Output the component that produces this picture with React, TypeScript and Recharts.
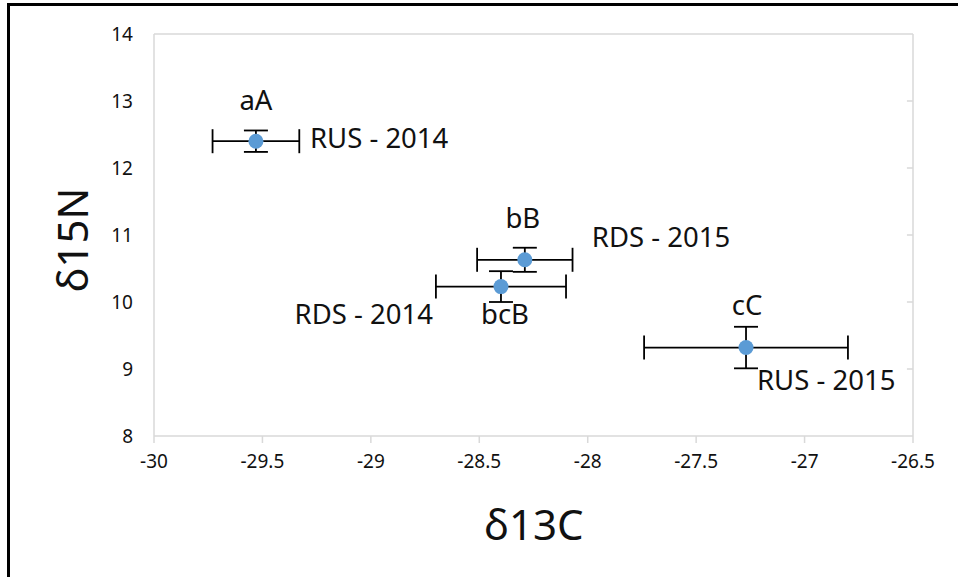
import React from 'react';
import { ScatterChart, Scatter, XAxis, YAxis, ErrorBar, ReferenceLine } from 'recharts';

const sites = ['RUS - 2014', 'RDS - 2015', 'RDS - 2014', 'RUS - 2015'];
const groupLetters = ['aA', 'bB', 'bcB', 'cC'];
const d13C = [-29.53, -28.29, -28.4, -27.27];
const d15N = [12.4, 10.63, 10.23, 9.32];
const d13CErr = [0.2, 0.22, 0.3, 0.47];
const d15NErr = [0.16, 0.18, 0.23, 0.31];
const xTicks = [-30, -29.5, -29, -28.5, -28, -27.5, -27, -26.5];
const yTicks = [8, 9, 10, 11, 12, 13, 14];

const points = sites.map((s, i) => ({
  site: s,
  letter: groupLetters[i],
  x: d13C[i],
  y: d15N[i],
  xErr: d13CErr[i],
  yErr: d15NErr[i],
}));

// label placement (styling, kept apart from the data)
const letterPlacement: Record<string, { dx: number; dy: number }> = {
  'RUS - 2014': { dx: 0, dy: -31 },
  'RDS - 2015': { dx: -2, dy: -32 },
  'RDS - 2014': { dx: 4, dy: 37 },
  'RUS - 2015': { dx: 1, dy: -33 },
};
const namePlacement: Record<string, { dx: number; dy: number; anchor: 'start' | 'end' }> = {
  'RUS - 2014': { dx: 54, dy: 7, anchor: 'start' },
  'RDS - 2015': { dx: 67, dy: -13, anchor: 'start' },
  'RDS - 2014': { dx: -68, dy: 37, anchor: 'end' },
  'RUS - 2015': { dx: 11, dy: 42, anchor: 'start' },
};

const FONT = '"Noto Sans", sans-serif';
const GRID = '#d9d9d9';
const X_MIN = -30;
const X_MAX = -26.5;
const Y_MIN = 8;
const Y_MAX = 14;
const INNER_TICK = 0.028; // inward tick length of the right frame, in x units

const PointShape = (props: any) => {
  const { cx, cy, payload } = props;
  if (cx == null || cy == null) return <g />;
  const lp = letterPlacement[payload.site];
  const np = namePlacement[payload.site];
  return (
    <g>
      <circle cx={cx} cy={cy} r={7.5} fill="#5B9BD5" />
      <text x={cx + lp.dx} y={cy + lp.dy} textAnchor="middle" fontFamily={FONT} fontSize={27.5} fill="#111">
        {payload.letter}
      </text>
      <text x={cx + np.dx} y={cy + np.dy} textAnchor={np.anchor} fontFamily={FONT} fontSize={27.5} fill="#111">
        {payload.site}
      </text>
    </g>
  );
};

export default function App() {
  return (
    <div style={{ position: 'absolute', left: 0, top: 0, width: 958, height: 577, background: '#fff' }}>
      <div
        style={{
          position: 'absolute',
          left: 7,
          top: 3,
          width: 960,
          height: 580,
          borderLeft: '3px solid #000',
          borderTop: '3px solid #000',
        }}
      />
      <div style={{ position: 'absolute', left: 0, top: 0 }}>
        <ScatterChart width={958} height={577} margin={{ top: 34, right: 45, bottom: 0, left: 0 }}>
          <XAxis
            type="number"
            dataKey="x"
            domain={[X_MIN, X_MAX]}
            ticks={xTicks}
            allowDataOverflow
            height={141}
            stroke={GRID}
            strokeWidth={1.5}
            tickSize={7}
            tickMargin={12}
            tick={{ fontFamily: FONT, fontSize: 19, fill: '#111' }}
            tickLine={{ stroke: GRID, strokeWidth: 1.5 }}
          />
          <YAxis
            type="number"
            dataKey="y"
            domain={[Y_MIN, Y_MAX]}
            ticks={yTicks}
            allowDataOverflow
            width={154}
            stroke={GRID}
            strokeWidth={1.5}
            tickLine={false}
            tickSize={0}
            tickMargin={21}
            tick={{ fontFamily: FONT, fontSize: 19, fill: '#111' }}
          />
          <ReferenceLine y={Y_MAX} stroke={GRID} strokeWidth={1.5} />
          <ReferenceLine x={X_MAX} stroke={GRID} strokeWidth={1.5} />
          {yTicks.slice(1, -1).map((v) => (
            <ReferenceLine
              key={v}
              segment={[
                { x: X_MAX - INNER_TICK, y: v },
                { x: X_MAX, y: v },
              ]}
              stroke={GRID}
              strokeWidth={1.5}
            />
          ))}
          <Scatter data={points} dataKey="y" shape={PointShape} isAnimationActive={false}>
            <ErrorBar dataKey="xErr" direction="x" width={12} stroke="#000" strokeWidth={1.8} isAnimationActive={false} />
            <ErrorBar dataKey="yErr" direction="y" width={12} stroke="#000" strokeWidth={1.8} isAnimationActive={false} />
          </Scatter>
          <text x={88} y={240} transform="rotate(-90 88 240)" textAnchor="middle" fontFamily={FONT} fontSize={42} fill="#111">
            δ15N
          </text>
          <text x={534} y={540} textAnchor="middle" fontFamily={FONT} fontSize={42} fill="#111">
            δ13C
          </text>
        </ScatterChart>
      </div>
    </div>
  );
}
